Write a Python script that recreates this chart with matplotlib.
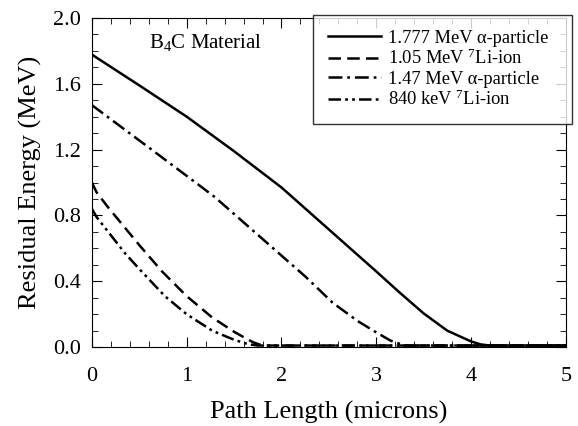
import matplotlib
matplotlib.use("Agg")
import matplotlib.pyplot as plt
from matplotlib.ticker import MultipleLocator

# Residual energy vs path length in B4C

alpha1777_x = [0, 0.5, 1.0, 1.5, 2.0, 2.5, 3.0, 3.25, 3.5, 3.75, 4.0, 4.1, 4.2, 5.0]
alpha1777_y = [1.777, 1.59, 1.40, 1.19, 0.97, 0.715, 0.46, 0.33, 0.205, 0.10, 0.035, 0.017, 0.01, 0.01]

li105_x = [0, 0.05, 0.17, 0.5, 0.74, 1.0, 1.27, 1.51, 1.7, 1.8, 5.0]
li105_y = [1.00, 0.94, 0.85, 0.62, 0.46, 0.31, 0.18, 0.09, 0.03, 0.01, 0.01]

alpha147_x = [0, 0.63, 1.14, 1.30, 2.25, 2.54, 2.8, 3.0, 3.15, 3.3, 5.0]
alpha147_y = [1.47, 1.20, 0.98, 0.91, 0.43, 0.27, 0.16, 0.09, 0.04, 0.01, 0.01]

li840_x = [0, 0.05, 0.35, 0.5, 0.77, 1.0, 1.27, 1.5, 1.65, 1.75, 5.0]
li840_y = [0.84, 0.79, 0.57, 0.475, 0.31, 0.20, 0.10, 0.045, 0.018, 0.01, 0.01]

labels = ["1.777 MeV α-particle",
          "1.05 MeV $^7$Li-ion",
          "1.47 MeV α-particle",
          "840 keV $^7$Li-ion"]

plt.rcParams["font.family"] = ["Liberation Serif", "DejaVu Serif"]
plt.rcParams["mathtext.fontset"] = "custom"
plt.rcParams["mathtext.rm"] = "Liberation Serif"
plt.rcParams["mathtext.it"] = "Liberation Serif:italic"
plt.rcParams["mathtext.default"] = "rm"
plt.rcParams["lines.scale_dashes"] = False

fig = plt.figure(figsize=(5.78, 4.26), dpi=100)
ax = fig.add_axes([0.159, 0.185, 0.82, 0.773])

lw = 1.8
ax.plot(alpha1777_x, alpha1777_y, color="black", lw=lw, label=labels[0])
ax.plot(li105_x, li105_y, color="black", lw=lw, dashes=(9, 4.5), label=labels[1])
ax.plot(alpha147_x, alpha147_y, color="black", lw=lw, dashes=(10, 3.5, 2, 3.5), label=labels[2])
ax.plot(li840_x, li840_y, color="black", lw=lw, dashes=(9, 3, 2, 3, 2, 3), label=labels[3])

ax.set_xlim(0, 5)
ax.set_ylim(0, 2.0)
ax.xaxis.set_major_locator(MultipleLocator(1))
ax.xaxis.set_minor_locator(MultipleLocator(0.2))
ax.yaxis.set_major_locator(MultipleLocator(0.4))
ax.yaxis.set_minor_locator(MultipleLocator(0.1))
ax.yaxis.set_major_formatter(plt.FormatStrFormatter("%.1f"))
ax.tick_params(which="both", direction="in", top=True, right=True)
ax.tick_params(which="major", length=7, labelsize=16)
ax.tick_params(axis="x", which="major", pad=14)
ax.tick_params(axis="y", which="major", pad=8)
ax.tick_params(which="minor", length=4)

ax.set_xlabel("Path Length (microns)", fontsize=19, labelpad=11)
ax.set_ylabel("Residual Energy (MeV)", fontsize=19, labelpad=8)

ax.text(0.6, 1.85, "B$_4$C Material", fontsize=15, va="center")

leg = ax.legend(loc="upper left", bbox_to_anchor=(313 / 578, 0.965 - 0.25, 259 / 578, 0.25),
                bbox_transform=fig.transFigure, mode="expand",
                fontsize=13.3, frameon=True, fancybox=False, edgecolor="black",
                handlelength=2.9, handletextpad=0.35, borderpad=0.8, labelspacing=0.12,
                borderaxespad=0)
leg.get_frame().set_linewidth(1.0)

fig.savefig("out.png", dpi=100)
